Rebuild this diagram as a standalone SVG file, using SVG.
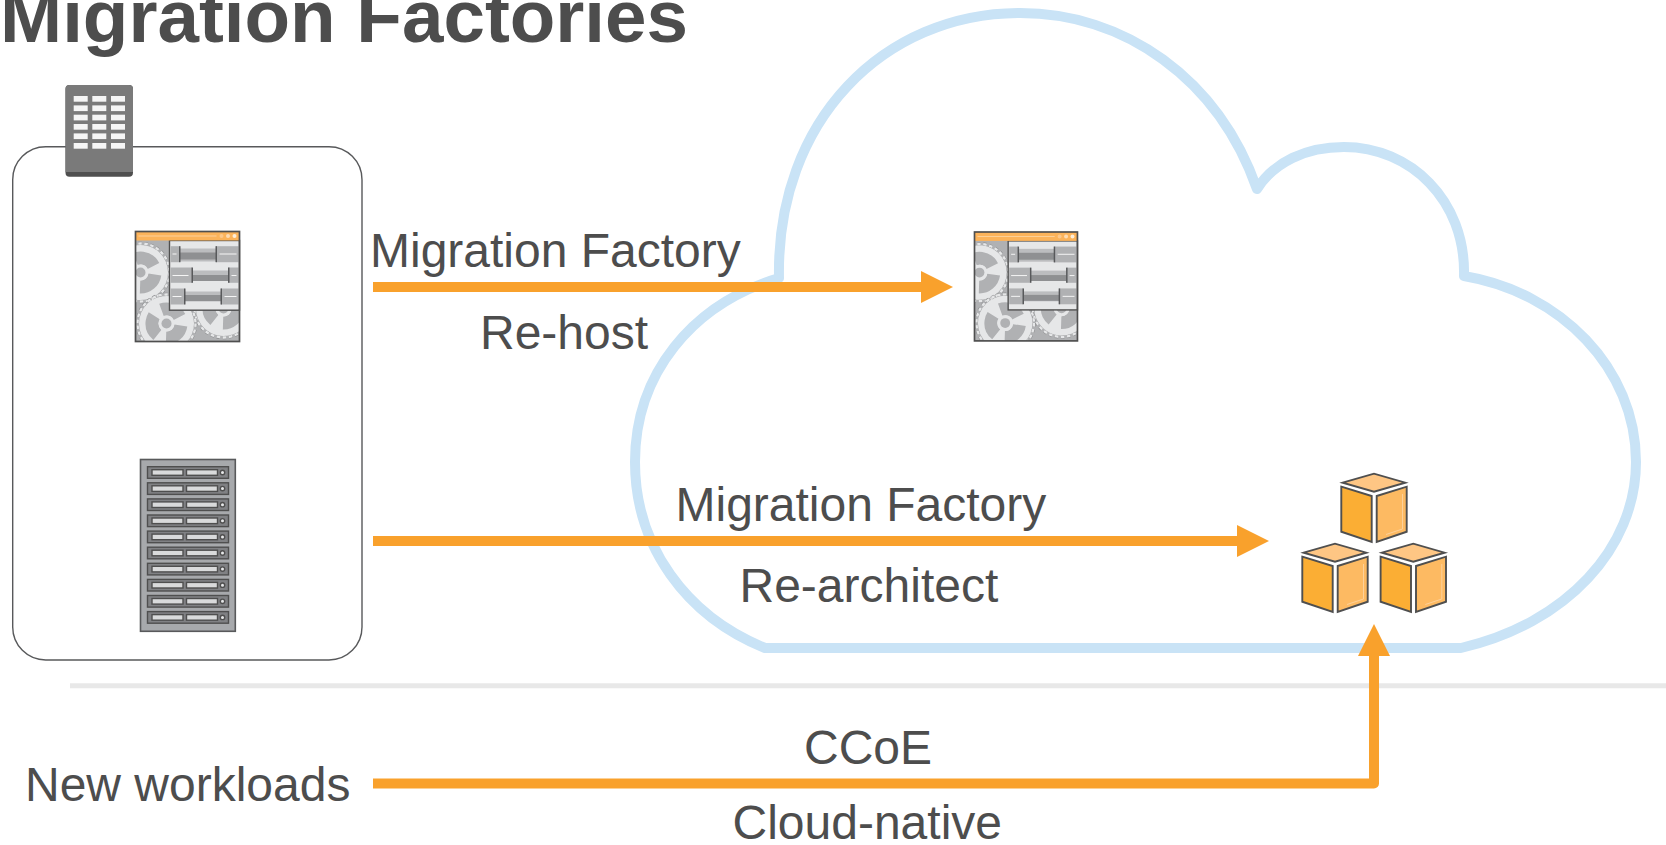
<svg xmlns="http://www.w3.org/2000/svg" xmlns:xlink="http://www.w3.org/1999/xlink" width="1666" height="845" viewBox="0 0 1666 845">
<style>
text{font-family:"Liberation Sans",Arial,sans-serif;fill:#4d4d4d;font-size:48px}
.title{font-weight:bold;font-size:74.600px}
.conn{fill:none;stroke:#f9a12c;stroke-width:10;stroke-linejoin:round}
.cubeL{fill:#fbae34;stroke:#4f4f4f;stroke-width:1.900}
.cubeR{fill:#fdba62;stroke:#4f4f4f;stroke-width:1.900}
.cubeT{fill:#fec684;stroke:#4f4f4f;stroke-width:1.900}
.cap{fill:#b0b1b3}
.band{fill:#bcbdbf}
.core{fill:#8f9092}
.div{fill:#58595b}
.tick{fill:#f5f5f5}
</style>
<defs>
<marker id="head" markerUnits="userSpaceOnUse" markerWidth="32" markerHeight="32" refX="0" refY="16" orient="auto" overflow="visible"><path d="M0 0L32 16L0 32Z" fill="#f9a12c"/></marker>
<g id="gearShape">
<circle r="29" fill="none" stroke="#8f9092" stroke-width="3.600" stroke-dasharray="3.500 2.600"/>
<circle r="29" fill="none" stroke="#e6e7e8" stroke-width="2.400" stroke-dasharray="3.500 2.600"/>
<circle r="27.500" fill="#e6e7e8"/>
<circle r="14.500" fill="none" stroke="#b0b1b3" stroke-width="13" stroke-dasharray="21 9.370" transform="rotate(8)"/>
<circle r="8" fill="#e6e7e8"/>
<circle r="5" fill="#b0b1b3"/>
</g>
<clipPath id="winClip"><rect x="0" y="0" width="104" height="110"/></clipPath>
<g id="window">
<rect x="0" y="0" width="104" height="110" fill="#b0b1b3"/>
<g clip-path="url(#winClip)">
<use xlink:href="#gearShape" transform="translate(88 77)"/>
<use xlink:href="#gearShape" transform="translate(5 41)"/>
<use xlink:href="#gearShape" transform="translate(31 92)"/>
</g>
<rect x="34" y="9" width="70" height="69.700" fill="#e6e7e8" stroke="#4f4f4f" stroke-width="1.400"/>
<rect class="band" x="44" y="17" width="37" height="13"/><rect class="core" x="44" y="21" width="37" height="7"/>
<rect class="cap" x="35" y="14.700" width="9" height="16"/><rect class="div" x="43.500" y="14.700" width="1.500" height="16"/>
<rect class="cap" x="80.500" y="14.700" width="23.500" height="16"/><rect class="div" x="80" y="14.700" width="1.500" height="16"/>
<rect class="tick" x="37" y="22" width="4" height="1"/><rect class="tick" x="84" y="22" width="17" height="1"/>
<rect class="band" x="57" y="39" width="36" height="10.500"/><rect class="core" x="57" y="43.500" width="36" height="6"/>
<rect class="cap" x="35" y="36" width="21.500" height="15.300"/><rect class="div" x="56" y="36" width="1.500" height="15.300"/>
<rect class="cap" x="93" y="36" width="11" height="15.300"/><rect class="div" x="92.500" y="36" width="1.500" height="15.300"/>
<rect class="tick" x="37" y="43.500" width="16" height="1"/><rect class="tick" x="96" y="43.500" width="5" height="1"/>
<rect class="band" x="49.500" y="60" width="36" height="10"/><rect class="core" x="49.500" y="63.500" width="36" height="6"/>
<rect class="cap" x="35" y="57" width="14" height="16"/><rect class="div" x="48.500" y="57" width="1.500" height="16"/>
<rect class="cap" x="85.500" y="57" width="18.500" height="16"/><rect class="div" x="85" y="57" width="1.500" height="16"/>
<rect class="tick" x="37" y="64.500" width="9" height="1"/><rect class="tick" x="89" y="64.500" width="12" height="1"/>
<rect x="0" y="0" width="104" height="9" fill="#fcb35a"/>
<rect x="3" y="4" width="78" height="1" fill="#fdd19a"/>
<circle cx="86" cy="4.500" r="2" fill="#fdc88a"/><circle cx="92.500" cy="4.500" r="2" fill="#fddcb4"/><circle cx="99" cy="4.500" r="2" fill="#fdeeda"/>
<rect x="0" y="0" width="104" height="110" fill="none" stroke="#4f4f4f" stroke-width="1.700"/>
</g>
<g id="rackRow">
<rect x="0" y="0" width="81" height="11.600" fill="#808184" stroke="#4f4f4f" stroke-width="1.400"/>
<rect x="4.500" y="3" width="31" height="5.600" fill="#d9dadb" stroke="#4f4f4f" stroke-width="1.400"/>
<rect x="39" y="3" width="31" height="5.600" fill="#d9dadb" stroke="#4f4f4f" stroke-width="1.400"/>
<circle cx="75" cy="5.800" r="2.200" fill="#e6e7e8" stroke="#4f4f4f" stroke-width="1.400"/>
</g>
<g id="cube">
<path class="cubeT" d="M72.700 22.700L104 13.700L135.300 22.700L104 31.700Z"/>
<path class="cubeL" d="M71.300 26.700L101.700 36V82L71.300 71.700Z"/>
<path class="cubeR" d="M106.700 36L136.700 26.700V71.700L106.700 82Z"/>
<path d="M132.500 34V69L116 74.500" fill="none" stroke="#fdd19a" stroke-width="1"/>
</g>
</defs>
<rect width="1666" height="845" fill="#fff"/>
<text class="title" x="0" y="41.500">Migration Factories</text>
<path id="divider" d="M70 685.700H1666" stroke="#e8e8e8" stroke-width="5" fill="none"/>
<g id="cloud"><path d="M765 648L1461 648C1566 624 1636 548 1636 462C1636 368 1560 292 1464 276C1466 200 1410 147 1344 147C1306 147 1274 162 1257 189C1218 78 1124 13 1020 13C884 13 776 120 779 278C692 304 635 374 635 462C635 546 686 616 765 648Z" fill="none" stroke="#c9e3f6" stroke-width="10" stroke-linejoin="round"/></g>
<g id="source-box"><rect x="12.700" y="146.700" width="349.300" height="513.300" rx="33" fill="none" stroke="#58595b" stroke-width="1.400"/></g>
<g id="datacenter-icon">
<rect x="65.500" y="85" width="67.500" height="91.700" rx="4" fill="#4f4f4f"/>
<path d="M65.500 89a4 4 0 0 1 4-4h59.500a4 4 0 0 1 4 4v83h-67.500z" fill="#7a7a7a"/>
<g fill="#f5f5f5">
<rect x="73.700" y="96" width="14" height="5.700"/><rect x="92.300" y="96" width="14" height="5.700"/><rect x="111" y="96" width="14" height="5.700"/>
<rect x="73.700" y="105.400" width="14" height="5.700"/><rect x="92.300" y="105.400" width="14" height="5.700"/><rect x="111" y="105.400" width="14" height="5.700"/>
<rect x="73.700" y="114.700" width="14" height="5.700"/><rect x="92.300" y="114.700" width="14" height="5.700"/><rect x="111" y="114.700" width="14" height="5.700"/>
<rect x="73.700" y="124" width="14" height="5.700"/><rect x="92.300" y="124" width="14" height="5.700"/><rect x="111" y="124" width="14" height="5.700"/>
<rect x="73.700" y="133.400" width="14" height="5.700"/><rect x="92.300" y="133.400" width="14" height="5.700"/><rect x="111" y="133.400" width="14" height="5.700"/>
<rect x="73.700" y="143" width="14" height="5.700"/><rect x="92.300" y="143" width="14" height="5.700"/><rect x="111" y="143" width="14" height="5.700"/>
</g>
</g>
<g id="app-onprem"><use xlink:href="#window" transform="translate(135.500 231.500)"/></g>
<g id="app-cloud"><use xlink:href="#window" transform="translate(974.500 232) scale(.99)"/></g>
<g id="rack">
<rect x="140.500" y="459.500" width="94.800" height="171.800" fill="#a7a9ac" stroke="#58595b" stroke-width="1.600"/>
<use xlink:href="#rackRow" x="147.500" y="466.700"/><use xlink:href="#rackRow" x="147.500" y="482.800"/><use xlink:href="#rackRow" x="147.500" y="498.900"/><use xlink:href="#rackRow" x="147.500" y="515"/><use xlink:href="#rackRow" x="147.500" y="531.100"/><use xlink:href="#rackRow" x="147.500" y="547.200"/><use xlink:href="#rackRow" x="147.500" y="563.300"/><use xlink:href="#rackRow" x="147.500" y="579.400"/><use xlink:href="#rackRow" x="147.500" y="595.500"/><use xlink:href="#rackRow" x="147.500" y="611.600"/>
</g>
<g id="cubes">
<use xlink:href="#cube" transform="translate(1270 460)"/>
<use xlink:href="#cube" transform="translate(1231 530)"/>
<use xlink:href="#cube" transform="translate(1309.300 530)"/>
</g>
<g id="connectors">
<path class="conn" d="M373 287H921" marker-end="url(#head)"/>
<path class="conn" d="M373 541H1237" marker-end="url(#head)"/>
<path class="conn" d="M373 783.500H1374V656" marker-end="url(#head)"/>
</g>
<g id="labels">
<text x="370" y="266.500">Migration Factory</text>
<text x="480" y="348.500">Re-host</text>
<text x="675.500" y="520.500">Migration Factory</text>
<text x="739.500" y="602">Re-architect</text>
<text x="25" y="801">New workloads</text>
<text x="804" y="764">CCoE</text>
<text x="732.500" y="839">Cloud-native</text>
</g>
</svg>
